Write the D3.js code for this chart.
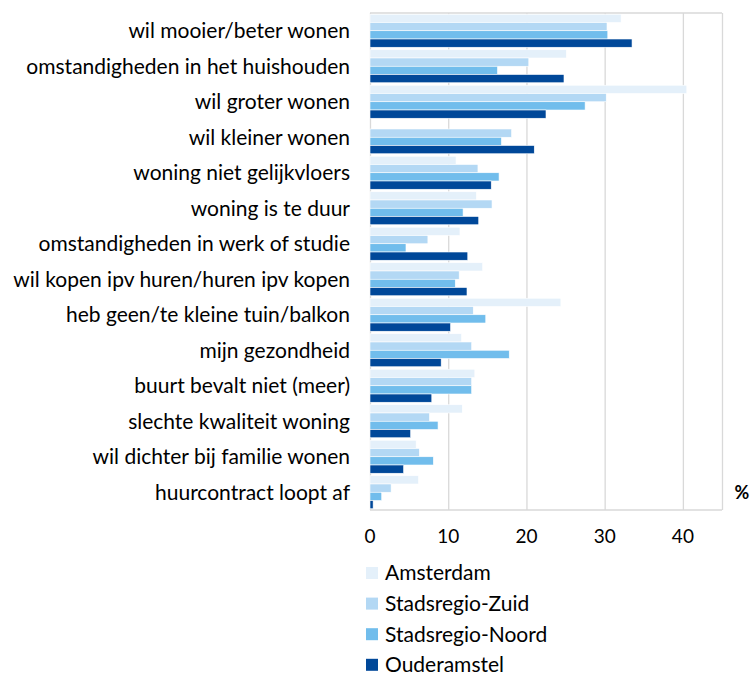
<!DOCTYPE html>
<html>
  <head>
    <meta charset="utf-8">
    <script src="https://d3js.org/d3.v7.min.js"></script>
    <style>
      body { margin: 0; background: #fff; }
      text { font-family: Lato, "Open Sans", sans-serif; fill: #000; }
      .tick line { stroke: #d9d9d9; }
      .domain { display: none; }
    </style>
  </head>
  <body>
    <svg width="751" height="675"></svg>
    <script>
      // reasons for moving, percentages per area
      const categories = [
        'wil mooier/beter wonen',
        'omstandigheden in het huishouden',
        'wil groter wonen',
        'wil kleiner wonen',
        'woning niet gelijkvloers',
        'woning is te duur',
        'omstandigheden in werk of studie',
        'wil kopen ipv huren/huren ipv kopen',
        'heb geen/te kleine tuin/balkon',
        'mijn gezondheid',
        'buurt bevalt niet (meer)',
        'slechte kwaliteit woning',
        'wil dichter bij familie wonen',
        'huurcontract loopt af'
      ];
      const seriesNames = ['Amsterdam', 'Stadsregio-Zuid', 'Stadsregio-Noord', 'Ouderamstel'];
      const amsterdam = [32.1, 25.1, 40.5, null, 11.0, 13.6, 11.5, 14.4, 24.4, 11.7, 13.4, 11.8, 5.9, 6.2];
      const zuid      = [30.3, 20.3, 30.2, 18.1, 13.8, 15.6, 7.4, 11.4, 13.2, 13.0, 13.0, 7.6, 6.3, 2.7];
      const noord     = [30.4, 16.3, 27.5, 16.8, 16.5, 11.9, 4.6, 10.9, 14.8, 17.8, 13.0, 8.7, 8.1, 1.5];
      const ouder     = [33.5, 24.8, 22.5, 21.0, 15.5, 13.9, 12.5, 12.4, 10.3, 9.1, 7.9, 5.2, 4.3, 0.4];
      const xTicks = [0, 10, 20, 30, 40];
      const colors = ['#e4f0fa', '#b3d8f4', '#71bdec', '#004899'];

      const seriesValues = [amsterdam, zuid, noord, ouder];

      const svg = d3.select('svg');
      const plotLeft = 370, plotRight = 722, plotTop = 13, plotBottom = 510;

      const x = d3.scaleLinear().domain([0, 45]).range([plotLeft, plotRight]);
      const y = d3.scaleBand().domain(categories).range([plotTop, plotBottom]).paddingInner(0.07).paddingOuter(0.035);
      const ySub = d3.scaleBand().domain(seriesNames).range([0, y.bandwidth()]);

      // gridlines
      svg.append('g')
        .attr('transform', `translate(0,${plotBottom})`)
        .call(d3.axisBottom(x).tickValues(xTicks.concat([45])).tickSize(-(plotBottom - plotTop)).tickFormat(''))
        .selectAll('.tick line').attr('stroke', '#d9d9d9').attr('stroke-width', 1.3);

      // plot frame (top/bottom)
      svg.append('line').attr('x1', plotLeft).attr('x2', plotRight).attr('y1', plotTop).attr('y2', plotTop)
        .attr('stroke', '#d9d9d9').attr('stroke-width', 1.3);
      svg.append('line').attr('x1', plotLeft).attr('x2', plotRight).attr('y1', plotBottom).attr('y2', plotBottom)
        .attr('stroke', '#d9d9d9').attr('stroke-width', 1.3);

      // bars
      seriesNames.forEach((s, si) => {
        svg.append('g').selectAll('rect')
          .data(categories.map((c, i) => ({ c, v: seriesValues[si][i] })).filter(d => d.v != null))
          .enter().append('rect')
            .attr('x', x(0))
            .attr('y', d => y(d.c) + ySub(s))
            .attr('width', d => x(d.v) - x(0))
            .attr('height', ySub.bandwidth())
            .attr('fill', colors[si])
            .attr('stroke', '#fff')
            .attr('stroke-width', 0.6);
      });

      // category labels
      svg.append('g').selectAll('text')
        .data(categories)
        .enter().append('text')
          .attr('x', 350)
          .attr('y', d => y(d) + y.bandwidth() / 2)
          .attr('dy', '0.35em')
          .attr('text-anchor', 'end')
          .style('font-size', '21px')
          .text(d => d);

      // x tick labels
      svg.append('g').selectAll('text')
        .data(xTicks)
        .enter().append('text')
          .attr('x', d => x(d))
          .attr('y', 543)
          .attr('text-anchor', 'middle')
          .style('font-size', '19px')
          .text(d => d);

      svg.append('text')
        .attr('x', 742).attr('y', 499)
        .attr('text-anchor', 'middle')
        .style('font-size', '18px').style('font-weight', 'bold')
        .text('%');

      // legend
      const legend = svg.append('g').selectAll('g')
        .data(seriesNames)
        .enter().append('g')
          .attr('transform', (d, i) => `translate(366,${573 + i * 30.6})`);
      legend.append('rect')
        .attr('x', 0).attr('y', -6)
        .attr('width', 12).attr('height', 12)
        .attr('fill', (d, i) => colors[i]);
      legend.append('text')
        .attr('x', 19).attr('dy', '0.35em')
        .style('font-size', '21px')
        .text(d => d);
    </script>
  </body>
</html>
